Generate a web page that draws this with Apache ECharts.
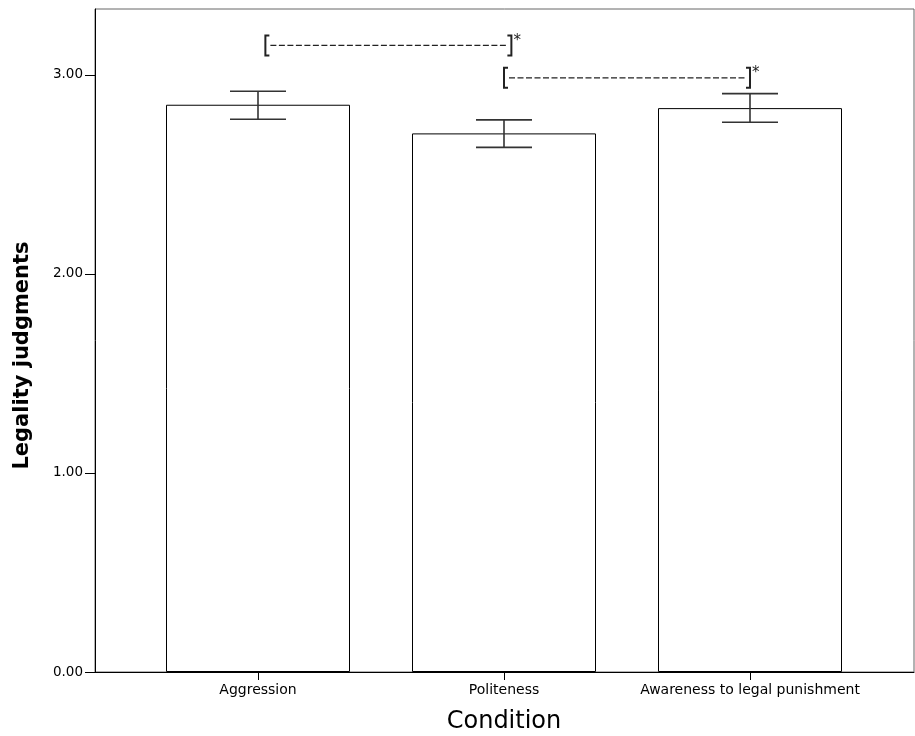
<!DOCTYPE html>
<html>
<head>
<meta charset="utf-8">
<script src="https://cdn.jsdelivr.net/npm/echarts@6/dist/echarts.min.js"></script>
<style>html,body{margin:0;padding:0;background:#fff}#c{width:915px;height:736px}</style>
</head>
<body>
<div id="c"></div>
<script>
var categories = ['Aggression', 'Politeness', 'Awareness to legal punishment'];
var means = [2.850, 2.706, 2.833];
var errLow = [2.777, 2.636, 2.762];
var errHigh = [2.918, 2.774, 2.906];
var yTicks = [0, 1, 2, 3];
var yMax = 3.331;
// significance brackets: [from category, to category, y level] (fractions of a category band)
var bracketFrom = [0.03, 1.0];
var bracketTo = [1.03, 2.0];
var bracketY = [3.148, 2.985];

var FONT = 'DejaVu Sans';
var chart = echarts.init(document.getElementById('c'), null, {renderer: 'canvas'});

var errData = categories.map(function (c, i) { return [i, errLow[i], errHigh[i]]; });
var brData = bracketFrom.map(function (f, i) { return [f, bracketTo[i], bracketY[i]]; });

function catCoord(api, v, y) {
  var i = Math.floor(v + 1e-9);
  var p = api.coord([i, y]);
  var band = api.size([1, 0])[0];
  return [p[0] + (v - i) * band, p[1]];
}

chart.setOption({
  animation: false,
  backgroundColor: '#fff',
  grid: [
    {left: 95, right: 1, top: 9, bottom: 64, show: true, borderColor: '#666', borderWidth: 1, backgroundColor: 'transparent',
     containLabel: false, outerBoundsMode: 'none'},
    {left: 135, right: 42, top: 9, bottom: 64, containLabel: false, outerBoundsMode: 'none'}
  ],
  xAxis: [
    {gridIndex: 0, type: 'value', min: 0, max: 1, axisLine: {show: true, onZero: false, lineStyle: {color: '#000', width: 1}},
     axisTick: {show: false}, axisLabel: {show: false}, splitLine: {show: false}},
    {gridIndex: 1, type: 'category', data: categories, boundaryGap: true,
     axisLine: {show: false}, axisTick: {show: true, alignWithLabel: true, length: 8, lineStyle: {color: '#000'}},
     axisLabel: {color: '#000', fontFamily: FONT, fontSize: 14, margin: 11, interval: 0},
     name: 'Condition', nameLocation: 'middle', nameGap: 38,
     nameTextStyle: {color: '#000', fontFamily: FONT, fontSize: 24}}
  ],
  yAxis: [
    {gridIndex: 0, type: 'value', min: 0, max: yMax,
     axisLine: {show: true, lineStyle: {color: '#000', width: 1}},
     axisTick: {show: true, length: 10, customValues: yTicks, lineStyle: {color: '#000'}},
     axisLabel: {color: '#000', fontFamily: FONT, fontSize: 13.5, margin: 12, customValues: yTicks,
       formatter: function (v) { return v.toFixed(2); }},
     splitLine: {show: false},
     name: 'Legality judgments', nameLocation: 'middle', nameGap: 62, nameRotate: 90,
     nameTextStyle: {color: '#000', fontFamily: FONT, fontSize: 21, fontWeight: 'bold', padding: [0, 30, 0, 0]}},
    {gridIndex: 1, type: 'value', min: 0, max: yMax, show: false}
  ],
  series: [
    {type: 'bar', xAxisIndex: 1, yAxisIndex: 1, data: means, barWidth: 184,
     itemStyle: {color: '#fff', borderColor: '#000', borderWidth: 1}, z: 2},
    {type: 'custom', xAxisIndex: 1, yAxisIndex: 1, data: errData, z: 5,
     renderItem: function (params, api) {
       var hi = api.coord([api.value(0), api.value(2)]);
       var lo = api.coord([api.value(0), api.value(1)]);
       var hw = 28;
       var st = {stroke: '#333', lineWidth: 1.6};
       return {type: 'group', children: [
         {type: 'line', shape: {x1: hi[0], y1: hi[1], x2: lo[0], y2: lo[1]}, style: st},
         {type: 'line', shape: {x1: hi[0] - hw, y1: hi[1], x2: hi[0] + hw, y2: hi[1]}, style: st},
         {type: 'line', shape: {x1: lo[0] - hw, y1: lo[1], x2: lo[0] + hw, y2: lo[1]}, style: st}
       ]};
     }},
    {type: 'custom', xAxisIndex: 1, yAxisIndex: 1, data: brData, z: 5, clip: false,
     renderItem: function (params, api) {
       var a = catCoord(api, api.value(0), api.value(2));
       var b = catCoord(api, api.value(1), api.value(2));
       var h = 10, s = 4;
       var st = {stroke: '#222', lineWidth: 2, fill: 'none'};
       return {type: 'group', children: [
         {type: 'polyline', shape: {points: [[a[0] + s, a[1] - h], [a[0], a[1] - h], [a[0], a[1] + h], [a[0] + s, a[1] + h]]}, style: st},
         {type: 'polyline', shape: {points: [[b[0] - s, b[1] - h], [b[0], b[1] - h], [b[0], b[1] + h], [b[0] - s, b[1] + h]]}, style: st},
         {type: 'line', shape: {x1: a[0] + 5, y1: a[1], x2: b[0] - 5, y2: b[1]},
          style: {stroke: '#222', lineWidth: 1.4, lineDash: [6, 2.5]}},
         {type: 'text', x: b[0] + 2, y: b[1] - 12,
          style: {text: '*', fill: '#222', font: '15px "DejaVu Sans"', textAlign: 'left', textVerticalAlign: 'top'}}
       ]};
     }}
  ]
});
</script>
</body>
</html>
